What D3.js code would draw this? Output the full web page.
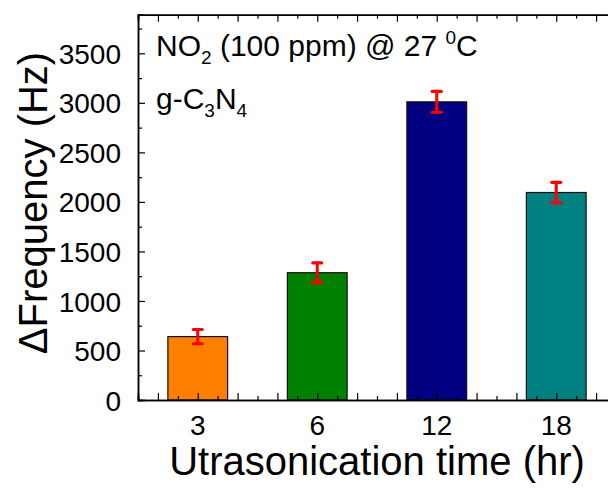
<!DOCTYPE html>
<html>
<head>
<meta charset="utf-8">
<script src="https://cdn.jsdelivr.net/npm/d3@7"></script>
<style>
  body { margin: 0; background: #fff; }
  svg text { font-family: "Liberation Sans", Arial, sans-serif; fill: #000; }
</style>
</head>
<body>
<div id="viz"></div>
<script>
const width = 608;
const height = 488;

// data
const categories = ['3', '6', '12', '18'];
const freqValues = [640, 1285, 3010, 2095];
const freqErrors = [72, 100, 105, 103];
const barColors = ['#ff8000', '#008000', '#000080', '#008080'];
const yTickValues = [0, 500, 1000, 1500, 2000, 2500, 3000, 3500];

const svg = d3.select('#viz')
    .append('svg')
        .attr('width', width)
        .attr('height', height);

// category index 1..4, axis runs from 0.5 to 4.5 (right edge is off the picture)
const x = d3.scaleLinear()
    .domain([0.5, 4.5])
    .range([138, 616]);

const y = d3.scaleLinear()
    .domain([0, 3890])
    .range([400, 14.7]);

const barWidth = x(1.5) - x(1);

// bars
svg.selectAll('rect.bar')
    .data(freqValues)
    .join('rect')
        .attr('class', 'bar')
        .attr('x', (d, i) => x(i + 1) - barWidth / 2)
        .attr('y', d => y(d))
        .attr('width', barWidth)
        .attr('height', d => y(0) - y(d))
        .attr('fill', (d, i) => barColors[i])
        .attr('stroke', '#111')
        .attr('stroke-width', 1.2);

// axes: ticks point inwards, minor ticks drawn as a second axis
const xMajor = d3.range(1, 14).map(k => 0.5 + k / 3 - 1 / 6);
const xMinor = d3.range(0, 14).map(k => 0.5 + k / 3);
const yMinor = d3.range(250, 3890, 500);

function styleAxis(g) {
    g.select('.domain').attr('stroke', '#000').attr('stroke-width', 1.5);
    g.selectAll('.tick line').attr('stroke', '#000').attr('stroke-width', 1.2);
}

svg.append('g')
    .attr('transform', `translate(0, ${y(0)})`)
    .call(d3.axisBottom(x).tickValues(xMinor).tickSize(-4).tickFormat(''))
    .call(styleAxis);

svg.append('g')
    .attr('transform', `translate(0, ${y(0)})`)
    .call(d3.axisBottom(x).tickValues(xMajor).tickSize(-7).tickFormat(''))
    .call(styleAxis);

svg.append('g')
    .attr('transform', `translate(0, ${y(3890)})`)
    .call(d3.axisTop(x).tickValues(xMinor).tickSize(-4).tickFormat(''))
    .call(styleAxis);

svg.append('g')
    .attr('transform', `translate(0, ${y(3890)})`)
    .call(d3.axisTop(x).tickValues(xMajor).tickSize(-7).tickFormat(''))
    .call(styleAxis);

svg.append('g')
    .attr('transform', `translate(${x(0.5)}, 0)`)
    .call(d3.axisLeft(y).tickValues(yMinor).tickSize(-4).tickFormat(''))
    .call(styleAxis);

const yAxis = svg.append('g')
    .attr('transform', `translate(${x(0.5)}, 0)`)
    .call(d3.axisLeft(y).tickValues(yTickValues).tickSize(-7).tickPadding(17)
        .tickFormat(d3.format('d')))
    .call(styleAxis);
yAxis.selectAll('.tick text')
    .attr('font-size', 28)
    .attr('dy', '0.36em')
    .attr('font-family', '"Liberation Sans", Arial, sans-serif');

// category labels under the bars
svg.selectAll('text.cat')
    .data(categories)
    .join('text')
        .attr('class', 'cat')
        .attr('x', (d, i) => x(i + 1))
        .attr('y', 435)
        .attr('text-anchor', 'middle')
        .attr('font-size', 28)
        .text(d => d);

// error bars
const errG = svg.append('g')
    .attr('stroke', '#ff0000')
    .attr('stroke-linecap', 'round');

errG.selectAll('line.stem')
    .data(freqValues)
    .join('line')
        .attr('x1', (d, i) => x(i + 1))
        .attr('x2', (d, i) => x(i + 1))
        .attr('y1', (d, i) => y(d - freqErrors[i]))
        .attr('y2', (d, i) => y(d + freqErrors[i]))
        .attr('stroke-width', 3);

errG.selectAll('line.capTop')
    .data(freqValues)
    .join('line')
        .attr('x1', (d, i) => x(i + 1) - 4.5)
        .attr('x2', (d, i) => x(i + 1) + 4.5)
        .attr('y1', (d, i) => y(d + freqErrors[i]))
        .attr('y2', (d, i) => y(d + freqErrors[i]))
        .attr('stroke-width', 3.2);

errG.selectAll('line.capBot')
    .data(freqValues)
    .join('line')
        .attr('x1', (d, i) => x(i + 1) - 4.5)
        .attr('x2', (d, i) => x(i + 1) + 4.5)
        .attr('y1', (d, i) => y(d - freqErrors[i]))
        .attr('y2', (d, i) => y(d - freqErrors[i]))
        .attr('stroke-width', 3.2);

// axis titles
svg.append('text')
    .attr('x', 377)
    .attr('y', 475)
    .attr('text-anchor', 'middle')
    .attr('font-size', 40)
    .text('Utrasonication time (hr)');

svg.append('text')
    .attr('text-anchor', 'middle')
    .attr('font-size', 40)
    .attr('transform', 'translate(47, 203) rotate(-90)')
    .text('\u0394Frequency (Hz)');

// annotation
const note1 = svg.append('text')
    .attr('x', 156)
    .attr('y', 56)
    .attr('font-size', 30);
note1.append('tspan').text('NO');
note1.append('tspan').attr('font-size', 19).attr('dy', 8).text('2');
note1.append('tspan').attr('dy', -8).text(' (100 ppm) @ 27 ');
note1.append('tspan').attr('font-size', 19).attr('dy', -12).text('0');
note1.append('tspan').attr('dy', 12).text('C');

const note2 = svg.append('text')
    .attr('x', 156)
    .attr('y', 109)
    .attr('font-size', 30);
note2.append('tspan').text('g-C');
note2.append('tspan').attr('font-size', 19).attr('dy', 8).text('3');
note2.append('tspan').attr('dy', -8).text('N');
note2.append('tspan').attr('font-size', 19).attr('dy', 8).text('4');
</script>
</body>
</html>
